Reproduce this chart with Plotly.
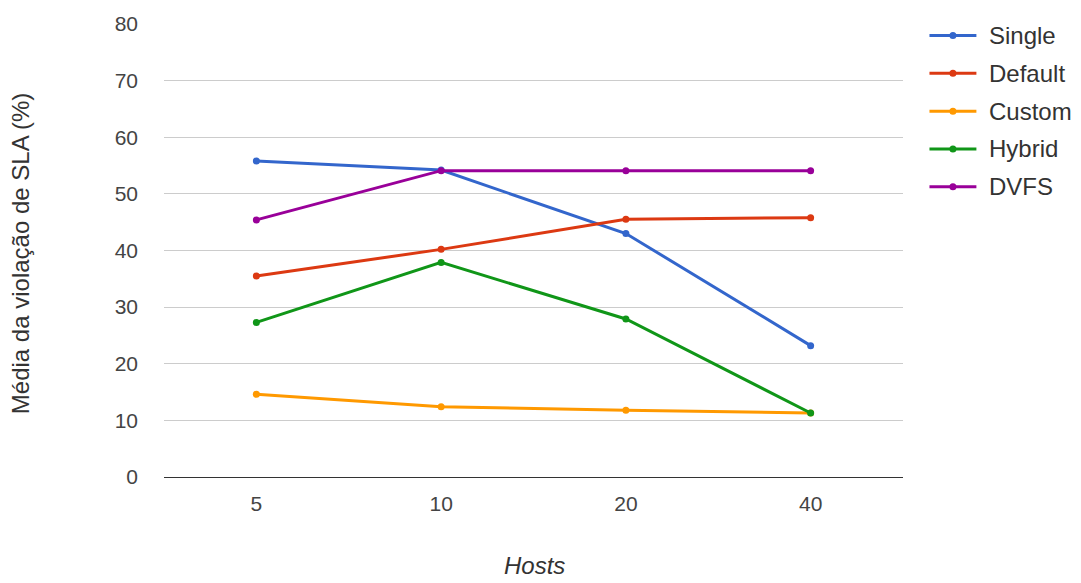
import plotly.graph_objects as go

# Number of hosts (categorical x axis)
hosts = ["5", "10", "20", "40"]

# Mean SLA violation (%) per policy
single = [55.8, 54.2, 43.0, 23.2]
default = [35.5, 40.2, 45.5, 45.8]
custom = [14.6, 12.4, 11.8, 11.3]
hybrid = [27.3, 37.9, 27.9, 11.3]
dvfs = [45.4, 54.1, 54.1, 54.1]

series_names = ["Single", "Default", "Custom", "Hybrid", "DVFS"]
series_values = [single, default, custom, hybrid, dvfs]
series_colors = ["#3366cc", "#dc3912", "#ff9900", "#109618", "#990099"]

y_ticks = [0, 10, 20, 30, 40, 50, 60, 70, 80]

FONT = "Arial, Liberation Sans, sans-serif"
W, H = 1081, 583
ML, MR, MT, MB = 163.5, 177.5, 20.5, 105.5
PW, PH = W - ML - MR, H - MT - MB


def px_x(px):
    """Pixel column -> paper x."""
    return (px - ML) / PW


def px_y(py):
    """Pixel row -> paper y."""
    return (H - MB - py) / PH


fig = go.Figure()
for name, vals, color in zip(series_names, series_values, series_colors):
    fig.add_trace(go.Scatter(
        x=hosts, y=vals, name=name, mode="lines+markers",
        line=dict(color=color, width=3),
        marker=dict(color=color, size=7),
        showlegend=False,
    ))

# Legend drawn by hand: a coloured line with a dot, then the series name
shapes = []
annotations = []
for i, (name, color) in enumerate(zip(series_names, series_colors)):
    row = 32 + 38.2 * i
    shapes.append(dict(
        type="line", xref="paper", yref="paper",
        x0=px_x(930), x1=px_x(977), y0=px_y(row), y1=px_y(row),
        line=dict(color=color, width=3),
    ))
    shapes.append(dict(
        type="circle", xref="paper", yref="paper",
        xsizemode="pixel", ysizemode="pixel",
        xanchor=px_x(953.5), yanchor=px_y(row),
        x0=-3.5, x1=3.5, y0=-3.5, y1=3.5,
        fillcolor=color, line=dict(color=color, width=0),
    ))
    annotations.append(dict(
        text=name, xref="paper", yref="paper",
        x=px_x(988), y=px_y(row), xanchor="left", yanchor="middle",
        showarrow=False, font=dict(family=FONT, size=24, color="#333333"),
    ))

# Axis titles
annotations.append(dict(
    text="<i>Hosts</i>", xref="paper", yref="paper",
    x=px_x(534.5), y=px_y(567), xanchor="center", yanchor="middle",
    showarrow=False, font=dict(family=FONT, size=24, color="#333333"),
))
annotations.append(dict(
    text="Média da violação de SLA (%)", xref="paper", yref="paper",
    x=px_x(20), y=px_y(252), xanchor="center", yanchor="middle",
    textangle=-90, showarrow=False,
    font=dict(family=FONT, size=24, color="#333333"),
))

fig.update_layout(
    width=W, height=H,
    margin=dict(l=ML, r=MR, t=MT, b=MB),
    paper_bgcolor="white", plot_bgcolor="white",
    font=dict(family=FONT, color="#444444", size=21),
    showlegend=False,
    shapes=shapes,
    annotations=annotations,
    xaxis=dict(
        type="category",
        range=[-0.5, 3.5],
        showgrid=False, zeroline=False, showline=False,
        ticks="", ticklabelstandoff=12,
        tickfont=dict(family=FONT, size=21, color="#444444"),
    ),
    yaxis=dict(
        range=[0, 80],
        tickvals=y_ticks,
        showgrid=True, gridcolor="#cccccc", gridwidth=1,
        zeroline=True, zerolinecolor="#333333", zerolinewidth=1,
        showline=False,
        ticks="", ticklabelstandoff=25,
        tickfont=dict(family=FONT, size=21, color="#444444"),
    ),
)

fig.write_html("out.html")
